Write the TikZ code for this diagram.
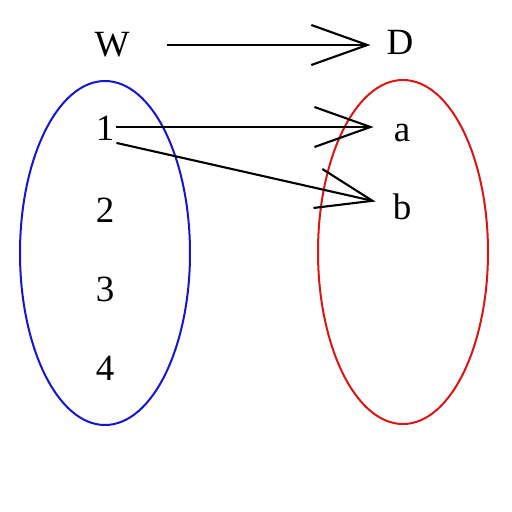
\documentclass[tikz,border=0pt]{standalone}
\usepackage{fontspec}
\setmainfont{Liberation Serif}
\usetikzlibrary{arrows.meta,calc}
\tikzset{
  lbl/.style={font=\fontsize{37}{44}\selectfont, inner sep=2pt},
  conn/.style={line width=2.1pt, -{Straight Barb[length=56pt,width=40pt,line width=2.1pt]}},
  setell/.style={line width=2pt}
}
\definecolor{setblue}{RGB}{20,20,210}
\definecolor{setred}{RGB}{220,20,20}
\begin{document}
\begin{tikzpicture}[x=1pt,y=-1pt]
\useasboundingbox (0,0) rectangle (512,512);
\draw[setell, setblue] (105,253) ellipse [x radius=85pt, y radius=172pt];
\draw[setell, setred] (403,252) ellipse [x radius=85pt, y radius=172pt];
\node[lbl] (W) at (112,45) {W};
\node[lbl] (D) at (400,42) {D};
\node[lbl] (n1) at (105,128.5) {1};
\node[lbl] (n2) at (105,210) {2};
\node[lbl] (n3) at (105,289) {3};
\node[lbl] (n4) at (105,368) {4};
\node[lbl] (a) at (402,132.5) {a};
\node[lbl] (b) at (402,206.5) {b};
\draw[conn, shorten <=35pt, shorten >=14pt] (W.east) -- (W.east -| D.west);
\draw[conn, shorten >=18pt] (n1.east |- 0,127) -- (a.west |- 0,127);
\draw[conn] (n1.south east) -- ($(b.west)+(-15,-5)$);
\end{tikzpicture}
\end{document}
